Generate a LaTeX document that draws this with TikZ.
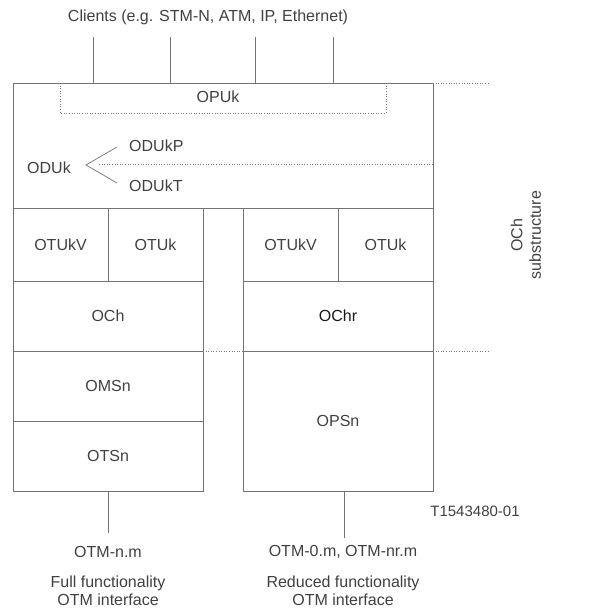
\documentclass[tikz,border=0pt]{standalone}
\usepackage{fontspec}
\setmainfont{Liberation Sans}
\begin{document}
\begin{tikzpicture}[x=1pt,y=-1pt,
  line/.style={draw=black!55,line width=0.9pt},
  dots/.style={draw=black!52,line width=0.8pt,dash pattern=on 1pt off 1.6pt},
  box/.style={line,rectangle,inner sep=0pt,outer sep=0pt,text=black!75,font=\fontsize{16}{18.5}\selectfont},
  lbl/.style={text=black!75,font=\fontsize{16}{18.5}\selectfont,inner sep=0pt,align=center},
  small/.style={text=black!75,font=\fontsize{15}{17}\selectfont,inner sep=0pt}]
\useasboundingbox (0,0) rectangle (592,613);
% top box
\node[box,minimum width=420pt,minimum height=125pt] (top) at (223,145.5) {};
% left column
\node[box,minimum width=95pt,minimum height=73pt] (otukvL) at (60.5,244.5) {OTUkV};
\node[box,minimum width=95pt,minimum height=73pt] (otukL) at (155.5,244.5) {OTUk};
\node[box,minimum width=190pt,minimum height=70pt] (och) at (108,316) {OCh};
\node[box,minimum width=190pt,minimum height=70pt] (omsn) at (108,386) {OMSn};
\node[box,minimum width=190pt,minimum height=70pt] (otsn) at (108,456) {OTSn};
% right column
\node[box,minimum width=95pt,minimum height=73pt] (otukvR) at (290.5,244.5) {OTUkV};
\node[box,minimum width=95pt,minimum height=73pt] (otukR) at (385.5,244.5) {OTUk};
\node[box,minimum width=190pt,minimum height=70pt,text=black!90] (ochr) at (338,316) {OChr};
\node[box,minimum width=190pt,minimum height=140pt] (opsn) at (338,421) {OPSn};
% clients
\node[lbl] (clients) at (208,17) {Clients (e.g. STM-N, ATM, IP, Ethernet)};
\foreach \i/\x in {1/93,2/170,3/255,4/333}{
  \coordinate (c\i) at (\x,37);
  \draw[line] (c\i) -- (c\i |- top.north);
}
% OPUk
\coordinate (p1) at (60,83);
\coordinate (p2) at (386,113);
\draw[dots] (p1) -- (p1 |- p2) -- (p2) -- (p2 |- p1);
\node[lbl] (opuk) at (218,97) {OPUk};
% ODUk
\node[lbl] (oduk) at (49,168) {ODUk};
\coordinate (apex) at (86,165);
\coordinate (tipP) at (117,147);
\coordinate (tipT) at (117,183);
\draw[line,line width=0.7pt] (tipP) -- (apex) -- (tipT);
\node[lbl,anchor=west] (odukp) at (129,146) {ODUkP};
\node[lbl,anchor=west] (odukt) at (129,186) {ODUkT};
\coordinate (d1) at (99,164);
\draw[dots] (d1) -- (d1 -| top.east);
% substructure markers
\coordinate (s1) at (490,83);
\coordinate (s2) at (490,351);
\draw[dots] (top.north east) -- (s1);
\draw[dots] (och.south east) -- (ochr.south west);
\draw[dots] (ochr.south east) -- (s2);
\node[lbl,rotate=90] (sub) at (526,235) {OCh\\substructure};
% bottom
\coordinate (b1) at (108,533);
\coordinate (b2) at (344,538);
\draw[line] (otsn.south) -- (b1);
\draw[line] (b2 |- opsn.south) -- (b2);
\node[lbl] (otmn) at (108,552) {OTM-n.m};
\node[lbl] (otm0) at (343,552) {OTM-0.m, OTM-nr.m};
\node[lbl] (full) at (108,591) {Full functionality\\OTM interface};
\node[lbl] (red) at (343,591) {Reduced functionality\\OTM interface};
\node[small] (tag) at (475,511) {T1543480-01};
\end{tikzpicture}
\end{document}
